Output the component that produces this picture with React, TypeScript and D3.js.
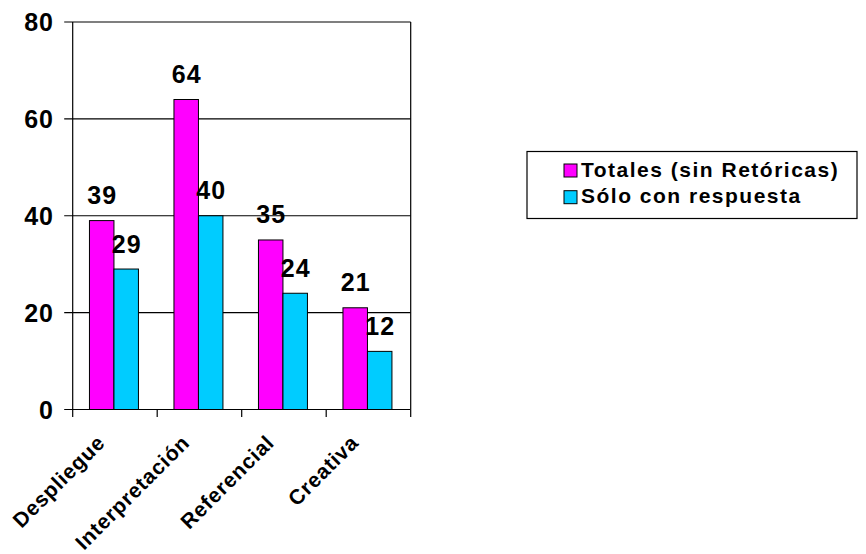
import React from "react";
import * as d3 from "d3";

const categories = ["Despliegue", "Interpretación", "Referencial", "Creativa"];
const seriesNames = ["Totales (sin Retóricas)", "Sólo con respuesta"];
const totales = [39, 64, 35, 21];
const soloRespuesta = [29, 40, 24, 12];
const yTicks = [0, 20, 40, 60, 80];
const colors = ["#FF00FF", "#00CCFF"];

const W = 866;
const H = 554;
const plot = { left: 72.7, right: 410.7, top: 22, bottom: 409.5 };
const FONT = "'Liberation Sans', Arial, sans-serif";

export default function App() {
  const x = d3
    .scaleBand<string>()
    .domain(categories)
    .range([plot.left, plot.right])
    .paddingInner(0)
    .paddingOuter(0);
  const y = d3.scaleLinear().domain([0, 80]).range([plot.bottom, plot.top]);
  const bw = x.bandwidth();
  const barW = bw / 3.45;
  const offset = (bw - 2 * barW) / 2 - 1;
  const series = [totales, soloRespuesta];
  const numFs = 25;
  const numLs = 1;

  return (
    <svg
      width={W}
      height={H}
      style={{ position: "absolute", left: 0, top: 0, background: "#fff" }}
      fontFamily={FONT}
      fontWeight="bold"
    >
      {yTicks.map((t) => (
        <line
          key={"g" + t}
          x1={plot.left - 8.5}
          x2={plot.right}
          y1={y(t)}
          y2={y(t)}
          stroke="#000"
          strokeWidth={1.2}
        />
      ))}
      <line x1={plot.right} x2={plot.right} y1={plot.top} y2={plot.bottom} stroke="#000" strokeWidth={1.2} />
      {yTicks.map((t) => (
        <text
          key={"yl" + t}
          x={53 + numLs}
          y={y(t)}
          dy="0.36em"
          textAnchor="end"
          fontSize={numFs}
          letterSpacing={numLs}
        >
          {t}
        </text>
      ))}
      {series.map((vals, si) =>
        categories.map((c, ci) => {
          const bx = (x(c) as number) + offset + si * barW;
          return (
            <rect
              key={"b" + si + ci}
              x={bx}
              y={y(vals[ci])}
              width={barW}
              height={y(0) - y(vals[ci])}
              fill={colors[si]}
              stroke="#000"
              strokeWidth={1}
            />
          );
        })
      )}
      {series.map((vals, si) =>
        categories.map((c, ci) => {
          const bx = (x(c) as number) + offset + si * barW + barW / 2;
          return (
            <text
              key={"dl" + si + ci}
              x={bx + numLs / 2}
              y={y(vals[ci]) - 16.5}
              textAnchor="middle"
              fontSize={numFs}
              letterSpacing={numLs}
            >
              {vals[ci]}
            </text>
          );
        })
      )}
      <line x1={plot.left} x2={plot.left} y1={plot.top} y2={plot.bottom} stroke="#000" strokeWidth={1.2} />
      {[...categories.map((c) => x(c) as number), plot.right].map((tx, i) => (
        <line key={"xt" + i} x1={tx} x2={tx} y1={plot.bottom} y2={plot.bottom + 7.5} stroke="#000" strokeWidth={1.2} />
      ))}
      {categories.map((c) => {
        const cx = (x(c) as number) + bw / 2 - 8.5;
        const cy = plot.bottom + 34.5;
        return (
          <text
            key={"xl" + c}
            x={cx}
            y={cy}
            textAnchor="end"
            fontSize={21}
            letterSpacing={0.8}
            transform={`rotate(-45 ${cx} ${cy})`}
          >
            {c}
          </text>
        );
      })}
      <rect x={527} y={151.5} width={330} height={67} fill="#fff" stroke="#000" strokeWidth={1.2} />
      {seriesNames.map((n, i) => (
        <g key={"lg" + i} transform={`translate(0, ${i * 26.7})`}>
          <rect x={564} y={164} width={13} height={13} fill={colors[i]} stroke="#000" strokeWidth={1} />
          <text x={581} y={176.5} fontSize={21} letterSpacing={1.5}>
            {n}
          </text>
        </g>
      ))}
    </svg>
  );
}
